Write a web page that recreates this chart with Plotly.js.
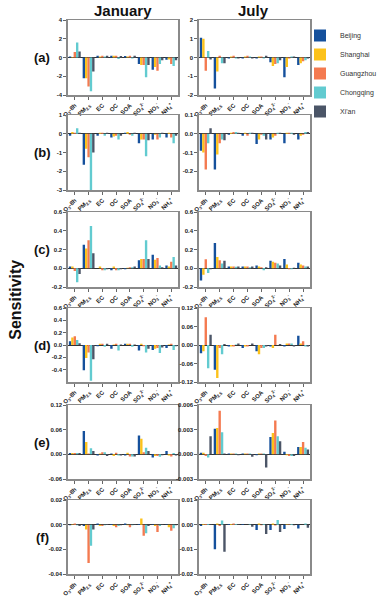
<!DOCTYPE html>
<html>
<head>
<meta charset="utf-8">
<script src="https://cdn.plot.ly/plotly-3.0.1.min.js"></script>
<style>
  html, body { margin: 0; padding: 0; background: #fff; }
  #chart { width: 382px; height: 600px; }
</style>
</head>
<body>
<div id="chart"></div>
<script>
// sensitivity of each city, one row per city in this order
const cities = ['Beijing', 'Shanghai', 'Guangzhou', 'Chongqing', "Xi'an"];
const cityColors = ['#15509c', '#fcc21b', '#f47a50', '#62cbd0', '#4b5567'];
const categories = ['O3-8h', 'PM2.5', 'EC', 'OC', 'SOA', 'SO4', 'NO3', 'NH4'];
const catLabels = ['O<sub>3</sub>-8h', 'PM<sub>2.5</sub>', 'EC', 'OC', 'SOA',
  'SO<sub>4</sub><sup>2-</sup>', 'NO<sub>3</sub><sup>-</sup>', 'NH<sub>4</sub><sup>+</sup>'];

// (a)
const janA = [
  [0.1, -2.2, 0.2, 0.2, 0.15, -0.7, -1.3, -0.25],
  [0.05, -2.2, 0.1, 0.2, 0.1, -0.8, -1.0, -0.2],
  [0.6, -3.1, 0.2, 0.2, 0.2, -0.8, -1.4, -0.7],
  [1.6, -3.6, 0.1, -0.15, -0.1, -2.1, -0.7, -0.9],
  [0.65, -1.5, 0.2, 0.15, 0.2, -0.8, -0.3, -0.3]
];
const julA = [
  [1.05, -1.65, -0.05, -0.05, -0.05, -0.25, -1.05, -0.4],
  [1.0, -0.75, 0.05, 0.05, 0.05, -0.45, -0.5, -0.3],
  [-0.7, 0.1, 0.1, 0.1, 0.05, -0.35, -0.05, -0.2],
  [0.35, -0.3, -0.05, 0.05, -0.05, -0.3, 0.05, -0.15],
  [-0.1, -0.3, -0.05, -0.05, 0.1, -0.15, 0.05, -0.05]
];
// (b)
const janB = [
  [-0.1, -1.65, -0.1, -0.2, 0.05, -0.5, -0.3, -0.2],
  [0.1, -0.8, 0.05, -0.15, 0.1, -0.3, -0.05, 0.05],
  [0.05, -1.25, 0.05, -0.1, -0.05, -0.3, -0.3, -0.2],
  [0.3, -3.0, -0.1, -0.3, -0.1, -1.2, -0.2, -0.5],
  [0.05, -1.0, 0.05, -0.1, 0.05, -0.35, 0.05, -0.1]
];
const julB = [
  [-0.09, -0.19, -0.005, -0.01, -0.055, -0.03, -0.05, -0.03],
  [-0.1, -0.11, 0.005, 0.005, -0.03, -0.02, 0.005, -0.01],
  [-0.19, -0.05, 0.01, -0.01, -0.005, -0.01, 0.005, -0.005],
  [-0.05, -0.03, 0.01, 0.005, -0.01, 0.005, 0.005, 0.01],
  [0.03, -0.035, 0.005, 0.005, -0.03, 0.005, -0.005, 0.01]
];
// (c)
const janC = [
  [0.02, 0.25, 0.0, -0.02, -0.01, 0.085, 0.145, 0.03],
  [0.02, 0.21, 0.02, 0.02, 0.005, 0.1, 0.09, 0.02],
  [-0.03, 0.3, -0.02, -0.02, 0.01, 0.1, 0.11, 0.07],
  [-0.15, 0.45, -0.02, -0.02, 0.01, 0.3, 0.03, 0.12],
  [-0.06, 0.16, -0.01, -0.01, 0.02, 0.1, 0.01, 0.03]
];
const julC = [
  [-0.13, 0.27, 0.02, 0.02, 0.03, 0.08, 0.1, 0.06],
  [-0.07, 0.12, 0.02, 0.02, 0.02, 0.07, 0.04, 0.04],
  [0.095, 0.085, 0.02, 0.02, 0.01, 0.06, -0.01, 0.03],
  [-0.05, 0.05, 0.015, 0.01, -0.02, 0.05, -0.01, 0.02],
  [-0.01, 0.08, 0.02, 0.02, 0.01, 0.03, 0.005, 0.02]
];
// (d)
const janD = [
  [0.06, -0.41, -0.02, -0.06, 0.02, -0.09, -0.08, -0.05],
  [0.12, -0.21, 0.02, 0.01, 0.02, 0.02, -0.06, 0.01],
  [0.14, -0.12, 0.02, 0.02, 0.02, -0.02, -0.05, 0.02],
  [0.08, -0.58, -0.03, -0.09, -0.03, -0.12, -0.13, -0.08],
  [0.03, -0.23, 0.02, 0.01, 0.01, -0.06, -0.04, -0.02]
];
const julD = [
  [-0.027, -0.08, -0.005, -0.01, -0.02, -0.005, -0.005, 0.03],
  [-0.02, -0.107, -0.005, -0.005, -0.03, -0.01, 0.005, 0.005],
  [0.09, -0.01, -0.005, -0.005, -0.01, 0.033, 0.005, 0.012],
  [-0.075, -0.03, 0.002, 0.0, -0.01, 0.0, 0.005, -0.005],
  [0.033, 0.003, 0.005, 0.005, -0.005, 0.003, -0.005, -0.005]
];
// (e)
const janE = [
  [0.003, 0.057, -0.003, 0.002, -0.003, 0.046, -0.008, 0.008],
  [0.003, 0.03, 0.002, -0.004, 0.004, 0.038, -0.004, -0.003],
  [0.003, 0.002, 0.005, 0.004, -0.005, 0.005, -0.004, -0.005],
  [0.003, 0.015, 0.005, -0.003, -0.005, 0.016, -0.006, 0.003],
  [0.003, 0.008, -0.004, -0.003, -0.005, 0.008, -0.002, -0.003]
];
const julE = [
  [0.0002, 0.0031, 0.0001, 0.0001, -0.0001, 0.0021, 0.0003, 0.0009],
  [0.0002, 0.0032, 0.0001, 0.0001, 0.0001, 0.0026, -0.0001, 0.0009],
  [-0.0002, 0.0053, 0.0001, 0.0001, 0.0001, 0.0041, -0.0002, 0.0015],
  [-0.0004, 0.0027, 0.0001, 0.0001, 0.0001, 0.0022, -0.0002, 0.0008],
  [0.0022, 0.0001, -0.0001, -0.0003, -0.0016, 0.0016, -0.0002, 0.0006]
];
// (f)
const janF = [
  [-0.0005, -0.001, 0.001, 0.0005, 0.001, 0.0005, 0.0003, 0.0003],
  [0.0003, -0.004, -0.001, -0.001, -0.0005, 0.005, -0.001, -0.002],
  [0.001, -0.031, -0.001, -0.002, -0.002, -0.009, -0.006, -0.005],
  [-0.0005, -0.017, -0.0005, -0.001, -0.0005, -0.007, -0.001, -0.003],
  [-0.001, -0.004, 0.0005, -0.0005, 0.0003, -0.001, 0.0003, -0.0005]
];
const julF = [
  [-0.0005, -0.010, 0.0003, 0.0003, -0.0022, -0.0022, -0.0018, -0.0016],
  [0.0003, 0.0005, 0.0003, 0.0, 0.0005, 0.0005, 0.0002, 0.0],
  [0.0003, -0.0005, 0.0005, 0.0, -0.0002, -0.0003, 0.0002, 0.0],
  [0.0003, 0.0017, 0.0003, 0.0002, 0.0003, 0.0019, 0.0003, 0.0005],
  [0.0002, -0.011, 0.0002, -0.0008, -0.0038, -0.003, -0.0002, -0.0012]
];

const rowNames = ['(a)', '(b)', '(c)', '(d)', '(e)', '(f)'];
const yTicks = [
  [[-4, -2, 0, 2, 4], [-2, -1, 0, 1, 2]],
  [[-3, -2, -1, 0, 1], [-0.2, -0.1, 0, 0.1]],
  [[-0.2, 0, 0.2, 0.4, 0.6], [-0.2, 0, 0.2, 0.4, 0.6]],
  [[-0.4, -0.2, 0, 0.2, 0.4, 0.6], [-0.12, -0.06, 0, 0.06, 0.12]],
  [[-0.06, 0, 0.06, 0.12], [-0.003, 0, 0.003, 0.006]],
  [[-0.04, -0.02, 0, 0.02], [-0.02, -0.01, 0, 0.01]]
];
const yRanges = [
  [[-4, 4], [-2, 2]],
  [[-3, 1], [-0.3, 0.1]],
  [[-0.2, 0.6], [-0.2, 0.6]],
  [[-0.6, 0.6], [-0.12, 0.12]],
  [[-0.06, 0.12], [-0.003, 0.006]],
  [[-0.04, 0.02], [-0.02, 0.01]]
];
const yDecimals = [[0, 0], [0, 1], [1, 1], [1, 2], [2, 3], [2, 2]];
const panelData = [[janA, julA], [janB, julB], [janC, julC], [janD, julD], [janE, julE], [janF, julF]];

const W = 382, H = 600;
const colPx = [[69, 181], [202, 315]];
const rowPx = [[20, 95], [115, 190], [212, 287], [308, 382], [405, 479], [500, 574]];

const FONT = 'Liberation Sans, Arial, sans-serif';
const traces = [];
const layout = {
  width: W, height: H,
  margin: { l: 0, r: 0, t: 0, b: 0 },
  paper_bgcolor: '#fff',
  plot_bgcolor: '#fff',
  font: { family: FONT, color: '#222', size: 6 },
  barmode: 'group',
  bargap: 0.14,
  bargroupgap: 0,
  showlegend: true,
  legend: {
    x: 305 / W, y: 1 - 21 / H, xanchor: 'left', yanchor: 'top',
    font: { family: FONT, size: 7, color: '#333' },
    itemwidth: 30, tracegroupgap: 0, bgcolor: 'rgba(0,0,0,0)'
  },
  annotations: []
};

let n = 0;
for (let r = 0; r < 6; r++) {
  for (let c = 0; c < 2; c++) {
    n++;
    const xa = n === 1 ? 'x' : 'x' + n;
    const ya = n === 1 ? 'y' : 'y' + n;
    const rows = panelData[r][c];
    rows.forEach((vals, i) => {
      traces.push({
        type: 'bar', x: categories, y: vals, name: cities[i],
        xaxis: xa, yaxis: ya, legendgroup: cities[i],
        showlegend: n === 1,
        marker: { color: cityColors[i], line: { width: 0 } },
        hoverinfo: 'skip'
      });
    });
    const tv = yTicks[r][c];
    layout['xaxis' + (n === 1 ? '' : n)] = {
      domain: [colPx[c][0] / W, colPx[c][1] / W],
      anchor: ya,
      type: 'category',
      tickvals: categories,
      ticktext: catLabels.map(s => '<b>' + s + '</b>'),
      tickangle: -45,
      tickfont: { family: FONT, size: 6, color: '#222' },
      ticks: 'outside', ticklen: 3, tickcolor: '#666',
      showline: true, mirror: true, linecolor: '#8a8a8a', linewidth: 1.5,
      showgrid: false, zeroline: false, fixedrange: true
    };
    layout['yaxis' + (n === 1 ? '' : n)] = {
      domain: [1 - rowPx[r][1] / H, 1 - rowPx[r][0] / H],
      anchor: xa,
      range: yRanges[r][c],
      tickvals: tv,
      ticktext: tv.map(v => '<b>' + v.toFixed(yDecimals[r][c]) + '</b>'),
      tickfont: { family: FONT, size: 6, color: '#222' },
      ticks: 'outside', ticklen: 3, tickcolor: '#666',
      showline: true, mirror: true, linecolor: '#8a8a8a', linewidth: 1.5,
      showgrid: false, zeroline: true, zerolinecolor: '#333', zerolinewidth: 1,
      fixedrange: true
    };
  }
  layout.annotations.push({
    xref: 'paper', yref: 'paper', x: 43 / W, y: 1 - (rowPx[r][0] + rowPx[r][1]) / 2 / H,
    text: '<b>' + rowNames[r] + '</b>', showarrow: false,
    font: { family: FONT, size: 13, color: '#111' }, xanchor: 'center', yanchor: 'middle'
  });
}

layout.annotations.push(
  { xref: 'paper', yref: 'paper', x: 125 / W, y: 1 - 10 / H, text: '<b>January</b>',
    showarrow: false, font: { family: FONT, size: 15, color: '#111' }, xanchor: 'center', yanchor: 'middle' },
  { xref: 'paper', yref: 'paper', x: 258 / W, y: 1 - 10 / H, text: '<b>July</b>',
    showarrow: false, font: { family: FONT, size: 15, color: '#111' }, xanchor: 'center', yanchor: 'middle' },
  { xref: 'paper', yref: 'paper', x: 15 / W, y: 1 - 300 / H, text: '<b>Sensitivity</b>', textangle: -90,
    showarrow: false, font: { family: FONT, size: 16, color: '#111' }, xanchor: 'center', yanchor: 'middle' }
);

Plotly.newPlot('chart', traces, layout, { staticPlot: true, displayModeBar: false });
</script>
</body>
</html>
